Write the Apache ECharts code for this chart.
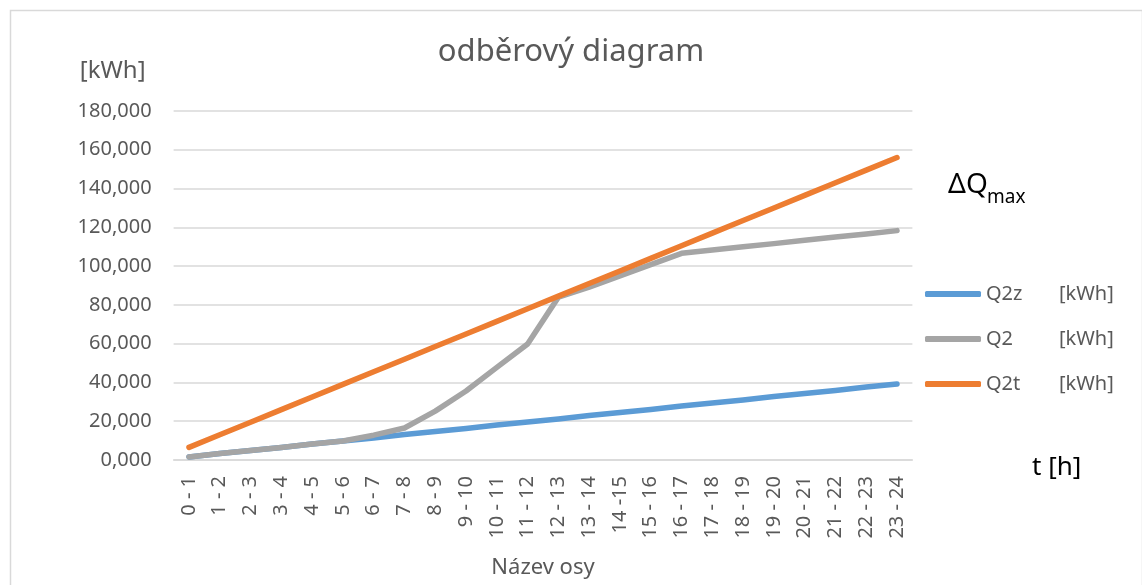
<!DOCTYPE html>
<html>
<head>
<meta charset="utf-8">
<script src="https://cdn.jsdelivr.net/npm/echarts@6/dist/echarts.min.js"></script>
<style>
  html, body { margin: 0; padding: 0; background: #ffffff; }
  #odber { width: 1142px; height: 585px; }
</style>
</head>
<body>
<div id="odber"></div>
<script>
// hodinové intervaly
const hours = [
  "0 - 1", "1 - 2", "2 - 3", "3 - 4", "4 - 5", "5 - 6", "6 - 7", "7 - 8",
  "8 - 9", "9 - 10", "10 - 11", "11 - 12", "12 - 13", "13 - 14", "14 -15", "15 - 16",
  "16 - 17", "17 - 18", "18 - 19", "19 - 20", "20 - 21", "21 - 22", "22 - 23", "23 - 24"
];
const seriesNames = ["Q2z", "Q2", "Q2t"];
// [kWh]
const q2z = [1.6, 3.3, 4.9, 6.5, 8.2, 9.8, 11.4, 13.1, 14.7, 16.3, 18.0, 19.6,
  21.2, 22.9, 24.5, 26.1, 27.8, 29.4, 31.0, 32.7, 34.3, 35.9, 37.6, 39.2];
const q2 = [1.6, 3.3, 4.9, 6.5, 8.2, 9.8, 12.8, 16.5, 25.2, 35.6, 47.8, 59.8,
  84.0, 89.2, 95.0, 100.8, 106.6, 108.3, 110.0, 111.6, 113.3, 115.0, 116.6, 118.3];
const q2t = [6.5, 13.0, 19.5, 26.0, 32.5, 39.0, 45.5, 52.0, 58.5, 65.0, 71.5, 78.0,
  84.5, 91.0, 97.5, 104.0, 110.5, 117.0, 123.5, 130.0, 136.5, 143.0, 149.5, 156.0];
const yMin = 0;
const yMax = 180;
const yStep = 20;

const font = "'Noto Sans', 'Open Sans', sans-serif";
const textGrey = "#595959";

const chart = echarts.init(document.getElementById("odber"));
chart.setOption({
  animation: false,
  backgroundColor: "#ffffff",
  title: {
    text: "odběrový diagram",
    left: "center",
    top: 32,
    textStyle: {
      color: textGrey,
      fontFamily: font,
      fontSize: 31,
      fontWeight: "normal",
    },
  },
  legend: {
    orient: "vertical",
    left: 920,
    top: 278,
    itemWidth: 56,
    itemHeight: 6,
    itemGap: 23,
    icon: "roundRect",
    data: seriesNames,
    formatter: function (name) {
      return "{n|" + name + "}{u|[kWh]}";
    },
    textStyle: {
      color: textGrey,
      fontFamily: font,
      fontSize: 20,
      lineHeight: 22,
      rich: {
        n: { width: 73, fontSize: 20, fontFamily: font, color: textGrey },
        u: { fontSize: 20, fontFamily: font, color: textGrey },
      },
    },
  },
  grid: {
    left: 173.6,
    right: 229.6,
    top: 111,
    bottom: 125,
    outerBoundsMode: "none",
    containLabel: false,
  },
  xAxis: {
    type: "category",
    data: hours,
    boundaryGap: true,
    name: "Název osy",
    nameLocation: "middle",
    nameGap: 97,
    nameTextStyle: {
      color: textGrey,
      fontFamily: font,
      fontSize: 22,
    },
    axisLine: {
      show: true,
      lineStyle: { color: "#D9D9D9", width: 1.5 },
    },
    axisTick: { show: false },
    axisLabel: {
      rotate: 90,
      interval: 0,
      margin: 16,
      color: textGrey,
      fontFamily: font,
      fontSize: 20,
    },
  },
  yAxis: {
    type: "value",
    min: yMin,
    max: yMax,
    interval: yStep,
    name: "[kWh]",
    nameLocation: "end",
    nameGap: 28,
    nameTextStyle: {
      color: textGrey,
      fontFamily: font,
      fontSize: 24,
      align: "right",
      padding: [0, 28, 0, 0],
    },
    axisLine: { show: false },
    axisTick: { show: false },
    splitLine: {
      show: true,
      lineStyle: { color: "#D9D9D9", width: 1.5 },
    },
    axisLabel: {
      margin: 22,
      color: textGrey,
      fontFamily: font,
      fontSize: 20,
      formatter: function (v) {
        return v.toFixed(3).replace(".", ",");
      },
    },
  },
  series: [
    {
      name: seriesNames[0],
      type: "line",
      data: q2z,
      symbol: "none",
      itemStyle: { color: "#5B9BD5" },
      lineStyle: { color: "#5B9BD5", width: 5.5, cap: "round", join: "round" },
    },
    {
      name: seriesNames[1],
      type: "line",
      data: q2,
      symbol: "none",
      itemStyle: { color: "#A5A5A5" },
      lineStyle: { color: "#A5A5A5", width: 5.5, cap: "round", join: "round" },
    },
    {
      name: seriesNames[2],
      type: "line",
      data: q2t,
      symbol: "none",
      itemStyle: { color: "#ED7D31" },
      lineStyle: { color: "#ED7D31", width: 5.5, cap: "round", join: "round" },
    },
  ],
  graphic: [
    {
      type: "rect",
      left: 8,
      top: 8,
      silent: true,
      shape: { width: 1132, height: 600 },
      style: { fill: "none", stroke: "#D9D9D9", lineWidth: 1.5 },
    },
    {
      type: "text",
      left: 948,
      top: 171,
      style: {
        text: "ΔQ",
        fontFamily: font,
        fontSize: 28,
        fill: "#000000",
      },
    },
    {
      type: "text",
      left: 987,
      top: 188,
      style: {
        text: "max",
        fontFamily: font,
        fontSize: 19,
        fill: "#000000",
      },
    },
    {
      type: "text",
      left: 1032,
      top: 455,
      style: {
        text: "t [h]",
        fontFamily: font,
        fontSize: 26,
        fill: "#000000",
      },
    },
  ],
});
</script>
</body>
</html>
